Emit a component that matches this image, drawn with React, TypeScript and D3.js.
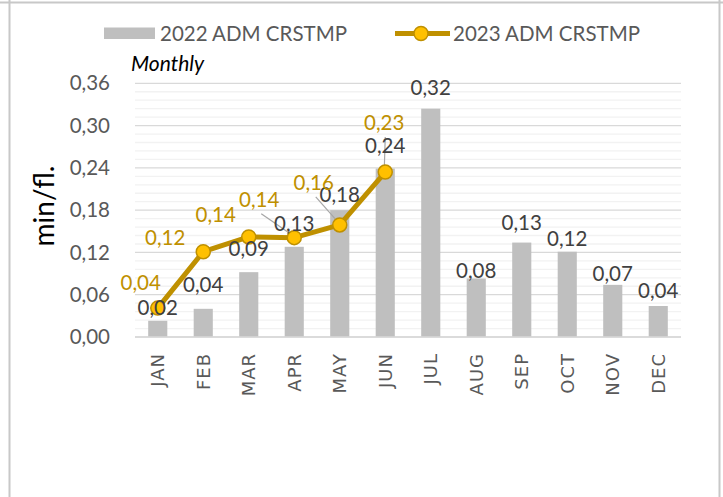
import React from "react";
import * as d3 from "d3";

const months = ["JAN","FEB","MAR","APR","MAY","JUN","JUL","AUG","SEP","OCT","NOV","DEC"];
const values2022 = [0.023, 0.040, 0.092, 0.128, 0.180, 0.239, 0.324, 0.083, 0.134, 0.121, 0.074, 0.044];
const values2023 = [0.041, 0.121, 0.142, 0.141, 0.159, 0.234];
const yTicks = [0, 0.06, 0.12, 0.18, 0.24, 0.30, 0.36];
const seriesNames = ["2022 ADM CRSTMP", "2023 ADM CRSTMP"];

// label placement offsets (pixels, label centre relative to mark)
const barLabelDy = [-13, -24, -23, -23, -15, -23, -21, -8, -20, -13, -11, -15];
const lineLabelOff: [number, number, boolean][] = [
  [-17, -25, false], [-38, -14, false], [-33, -22, false],
  [-35, -38, true], [-26, -42, true], [-1, -49, true],
];

const W = 723, H = 497;
const fmt = (v: number) => v.toFixed(2).replace(".", ",");

export default function App() {
  const x = d3.scaleBand<string>().domain(months).range([135, 681]).padding(0);
  const y = d3.scaleLinear().domain([0, 0.36]).range([337, 83.3]);
  const minorTicks = d3.range(0, 0.3601, 0.012).filter(v => !yTicks.some(t => Math.abs(t - v) < 1e-6));
  const bw = x.bandwidth() * 0.42;
  const cx = (m: string) => (x(m) as number) + x.bandwidth() / 2;
  const line = d3.line<number>().x((_, i) => cx(months[i])).y(v => y(v));
  const font = "Lato, 'Noto Sans', sans-serif";
  const gold = "#BF9000";
  const fs = 20.5;

  return (
    <svg width={W} height={H} style={{ position: "absolute", left: 0, top: 0 }} fontFamily={font}>
      <rect width={W} height={H} fill="#fff" />
      <line x1={0} x2={W} y1={2.5} y2={2.5} stroke="#c8c8c8" strokeWidth={2} />
      <line x1={9.5} x2={9.5} y1={0} y2={H} stroke="#c8c8c8" strokeWidth={2} />
      <line x1={719.5} x2={719.5} y1={0} y2={H} stroke="#c8c8c8" strokeWidth={2} />

      {minorTicks.map((t, i) => (
        <line key={"m" + i} x1={135} x2={681} y1={y(t)} y2={y(t)} stroke="#f2f2f2" strokeWidth={1.3} />
      ))}
      {yTicks.map((t, i) => (
        <g key={"t" + i}>
          <line x1={135} x2={681} y1={y(t)} y2={y(t)} stroke="#d9d9d9" strokeWidth={1.3} />
          <text x={110} y={y(t)} dy="0.35em" textAnchor="end" fontSize={fs} fill="#595959">{fmt(t)}</text>
        </g>
      ))}

      {values2022.map((v, i) => (
        <rect key={"b" + i} x={cx(months[i]) - bw / 2} y={y(v)} width={bw} height={y(0) - y(v)} fill="#bfbfbf" />
      ))}
      <line x1={135} x2={681} y1={y(0)} y2={y(0)} stroke="#d9d9d9" strokeWidth={1.5} />

      {months.map((m, i) => (
        <text key={"x" + i} transform={`translate(${cx(m) + 6.5},353) rotate(-90)`} textAnchor="end"
          fontSize={18} fill="#595959" fontFamily="'DejaVu Sans', sans-serif" letterSpacing={1}>{m}</text>
      ))}

      {/* leader lines */}
      {values2023.map((v, i) => {
        const o = lineLabelOff[i];
        if (!o[2]) return null;
        const px = cx(months[i]), py = y(v);
        const lx = px + o[0], ly = py + o[1] + 12;
        return <line key={"ld" + i} x1={i === 5 ? px : lx + 2} y1={ly + 2} x2={px - 1} y2={py - 2} stroke="#a6a6a6" strokeWidth={1.2} />;
      })}

      <path d={line(values2023) as string} fill="none" stroke={gold} strokeWidth={5} strokeLinejoin="round" />
      {values2023.map((v, i) => (
        <circle key={"c" + i} cx={cx(months[i])} cy={y(v)} r={7} fill="#FFC000" stroke={gold} strokeWidth={1.5} />
      ))}

      {values2022.map((v, i) => (
        <text key={"bl" + i} x={cx(months[i])} y={y(v) + barLabelDy[i]} dy="0.35em" textAnchor="middle" fontSize={fs} fill="#404040">{fmt(v)}</text>
      ))}
      {values2023.map((v, i) => (
        <text key={"ll" + i} x={cx(months[i]) + lineLabelOff[i][0]} y={y(v) + lineLabelOff[i][1]} dy="0.35em" textAnchor="middle" fontSize={fs} fill={gold}>{fmt(v)}</text>
      ))}

      {/* legend */}
      <rect x={104} y={27.5} width={51} height={11.5} fill="#bfbfbf" />
      <text x={160} y={33.5} dy="0.35em" fontSize={fs} fill="#595959">{seriesNames[0]}</text>
      <line x1={395} x2={450} y1={33.5} y2={33.5} stroke={gold} strokeWidth={5} />
      <circle cx={421} cy={33.5} r={7} fill="#FFC000" stroke={gold} strokeWidth={1.5} />
      <text x={453} y={33.5} dy="0.35em" fontSize={fs} fill="#595959">{seriesNames[1]}</text>

      <text x={131} y={64} dy="0.35em" fontSize={21} fontStyle="italic" fill="#000">Monthly</text>
      <text transform="translate(44,206) rotate(-90)" textAnchor="middle" dy="0.35em" fontSize={28} fill="#000">min/fl.</text>
    </svg>
  );
}
